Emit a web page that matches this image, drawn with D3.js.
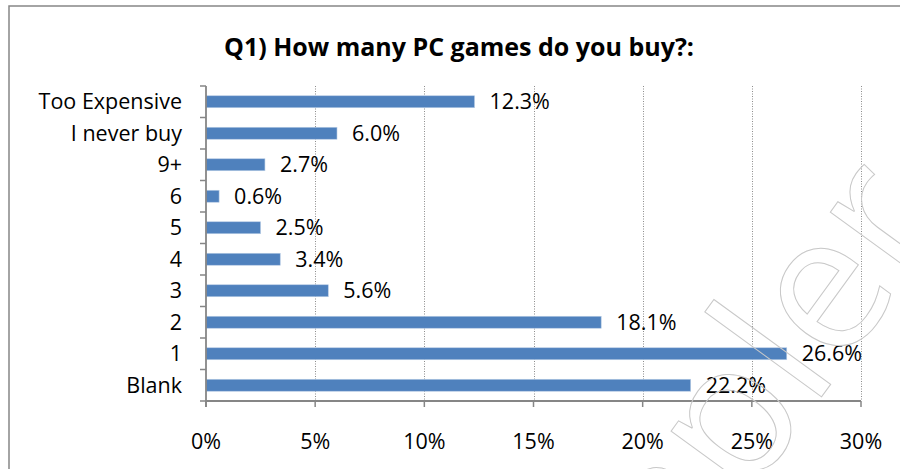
<!DOCTYPE html>
<html><head><meta charset="utf-8">
<script src="https://cdn.jsdelivr.net/npm/d3@7"></script>
<style>html,body{margin:0;padding:0;background:#fff;}svg{display:block;}</style>
</head><body>
<svg id="c" width="900" height="469"></svg>
<script>
const categories = ["Too Expensive","I never buy","9+","6","5","4","3","2","1","Blank"];
const values = [12.3, 6.0, 2.7, 0.6, 2.5, 3.4, 5.6, 18.1, 26.6, 22.2];
const xTicks = [0,5,10,15,20,25,30];
const title = "Q1) How many PC games do you buy?:";
const watermark = "Sampler";

(function(){
const font = "'Open Sans', sans-serif";
const fs = 21.5;
const svg = d3.select("#c");

// chart border
svg.append("rect").attr("x",9).attr("y",6).attr("width",900).attr("height",480)
  .attr("fill","#fff").attr("stroke","#878787").attr("stroke-width",1.5);

const pL = 206, pR = 861, pT = 86, pB = 401;
const x = d3.scaleLinear().domain([0,30]).range([pL,pR]);
const y = d3.scaleBand().domain(categories).range([pT,pB]).paddingInner(0.62).paddingOuter(0.31);

// title
svg.append("text").attr("x",459).attr("y",56).attr("text-anchor","middle")
  .attr("font-family",font).attr("font-weight","bold").attr("font-size",25).attr("fill","#000")
  .text(title);

// gridlines
svg.append("g").selectAll("line").data(xTicks.filter(d=>d>0)).join("line")
  .attr("x1",d=>Math.round(x(d))+0.5).attr("x2",d=>Math.round(x(d))+0.5)
  .attr("y1",pT).attr("y2",pB)
  .attr("stroke","#8c8c8c").attr("stroke-width",1).attr("stroke-dasharray","1,1.5");

// bars
svg.append("g").selectAll("rect").data(values).join("rect")
  .attr("x",x(0)).attr("y",(d,i)=>y(categories[i]))
  .attr("width",d=>x(d)-x(0)).attr("height",y.bandwidth())
  .attr("fill","#4F81BD").attr("stroke","#b9cde5").attr("stroke-width",0.6);

// value labels
svg.append("g").selectAll("text").data(values).join("text")
  .attr("x",d=>x(d)+15).attr("y",(d,i)=>y(categories[i])+y.bandwidth()/2)
  .attr("dy","0.36em").attr("font-family",font).attr("font-size",fs).attr("fill","#000")
  .text(d=>d.toFixed(1)+"%");

// y axis
const yAxis = svg.append("g").attr("transform",`translate(${pL},0)`);
yAxis.append("line").attr("x1",0).attr("x2",0).attr("y1",pT).attr("y2",pB+6)
  .attr("stroke","#868686").attr("stroke-width",1.8);
const step = y.step();
yAxis.selectAll("line.tk").data(d3.range(categories.length+1)).join("line").attr("class","tk")
  .attr("x1",-6).attr("x2",0)
  .attr("y1",i=>pT+i*step).attr("y2",i=>pT+i*step)
  .attr("stroke","#868686").attr("stroke-width",1.5);
yAxis.selectAll("text").data(categories).join("text")
  .attr("x",-24).attr("y",d=>y(d)+y.bandwidth()/2).attr("dy","0.36em")
  .attr("text-anchor","end").attr("font-family",font).attr("font-size",fs).attr("fill","#000")
  .text(d=>d);

// x axis
const xAxis = svg.append("g").attr("transform",`translate(0,${pB})`);
xAxis.append("line").attr("x1",pL).attr("x2",pR).attr("y1",0).attr("y2",0)
  .attr("stroke","#868686").attr("stroke-width",1.8);
xAxis.selectAll("line.tk").data(xTicks).join("line").attr("class","tk")
  .attr("x1",d=>x(d)).attr("x2",d=>x(d)).attr("y1",0).attr("y2",6)
  .attr("stroke","#868686").attr("stroke-width",1.5);
xAxis.selectAll("text").data(xTicks).join("text")
  .attr("x",d=>x(d)).attr("y",48).attr("text-anchor","middle")
  .attr("font-family",font).attr("font-size",fs).attr("fill","#000")
  .text(d=>d+"%");

// watermark (outlined, rotated)
const wm = svg.append("text").attr("font-family","'Open Sans', sans-serif").attr("font-size",190)
  .attr("fill","none").attr("stroke","#c8c8c8").attr("stroke-width",1)
  .text(watermark);
const off = wm.node().getSubStringLength(0,4);
const ang = -54, rad = ang*Math.PI/180;
const bx = 812 - off*Math.cos(rad), by = 410 - off*Math.sin(rad);
wm.attr("transform",`translate(${bx},${by}) rotate(${ang})`);
})();
</script>
</body></html>
